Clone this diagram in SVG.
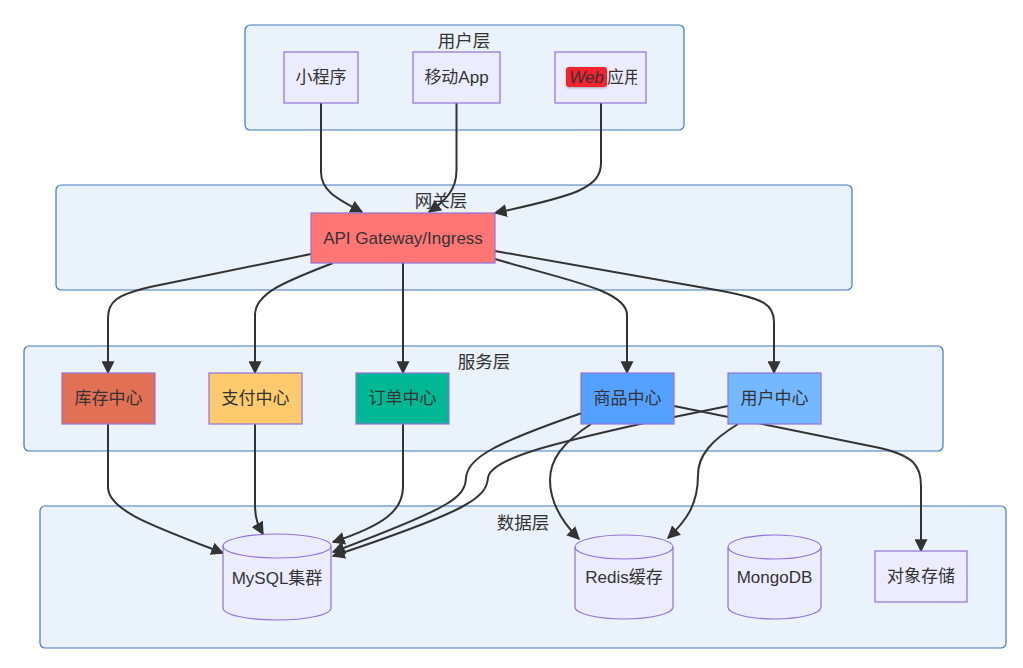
<svg xmlns="http://www.w3.org/2000/svg" width="1023" height="668" viewBox="0 0 1023 668">
<defs>
<style>
.cluster{fill:#eaf2fc;stroke:#4079c0;stroke-width:1.2}
.ctitle{font-family:"Liberation Sans","Noto Sans CJK SC",sans-serif;font-size:17.5px;fill:#333;text-anchor:middle;dominant-baseline:central}
.node{fill:#ececff;stroke:#9370db;stroke-width:1.2}
.lbl{font-family:"Liberation Sans","Noto Sans CJK SC",sans-serif;font-size:17px;fill:#333;text-anchor:middle;dominant-baseline:central}
.edge{fill:none;stroke:#333;stroke-width:2;marker-end:url(#arrow)}
</style>
<marker id="arrow" viewBox="0 0 10 10" refX="9" refY="5" markerUnits="userSpaceOnUse" markerWidth="13" markerHeight="13" orient="auto">
<path d="M0,0 L10,5 L0,10 z" fill="#333"/>
</marker>
<clipPath id="webclip"><rect x="556" y="53" width="81" height="50"/></clipPath>
<filter id="sh" x="-20%" y="-20%" width="140%" height="160%"><feDropShadow dx="0" dy="1" stdDeviation="1" flood-color="#000" flood-opacity="0.3"/></filter>
</defs>

<g id="clusters">
<g id="cluster-user"><rect class="cluster" x="245" y="25" width="439" height="105" rx="5"/><text class="ctitle" x="464" y="41">用户层</text></g>
<g id="cluster-gateway"><rect class="cluster" x="56" y="185" width="796" height="105" rx="5"/><text class="ctitle" x="441" y="201">网关层</text></g>
<g id="cluster-service"><rect class="cluster" x="24" y="346" width="919" height="105" rx="5"/><text class="ctitle" x="484" y="362">服务层</text></g>
<g id="cluster-data"><rect class="cluster" x="40" y="506" width="966" height="142" rx="5"/><text class="ctitle" x="523" y="523">数据层</text></g>
</g>

<g id="connectors">
<path class="edge" d="M321,103 L321,172 C321,190 335,198 362,212"/>
<path class="edge" d="M456.5,103 L456.5,170 C456.5,190 446,200 429,212"/>
<path class="edge" d="M601,103 L601,163 C601,188 575,196 495,213"/>
<path class="edge" d="M311,254 L150,287 C116,295 108,302 108,318 L108,373"/>
<path class="edge" d="M333,263 C290,280 255,292 255,315 L255,373"/>
<path class="edge" d="M403,263 L403,373"/>
<path class="edge" d="M495,259 C565,280 627,290 627,315 L627,373"/>
<path class="edge" d="M495,251 L722,291 C765,299 774,305 774,322 L774,373"/>
<path class="edge" d="M108,424 L108,487 C108,510 150,525 223,553"/>
<path class="edge" d="M255,424 L255,505 C255,520 259,527 263,534"/>
<path class="edge" d="M403,424 L403,487 C403,510 385,525 333,542"/>
<path class="edge" d="M582,413 C495,443 467,458 466,478 C465,498 450,508 333,552"/>
<path class="edge" d="M728,406 L640,424 C560,442 490,458 488,478 C486,498 470,510 333,556"/>
<path class="edge" d="M591,424 C562,443 550,460 550,480 C550,505 565,525 579,539"/>
<path class="edge" d="M738,424 C712,440 698,455 698,475 C698,505 686,521 668,538"/>
<path class="edge" d="M674,406 L880,448 C914,456 921,466 921,486 L921,551"/>
</g>

<g id="nodes">
<g id="n-miniprogram"><rect class="node" x="284" y="52" width="74" height="51"/><text class="lbl" x="321" y="77.5">小程序</text></g>
<g id="n-mobile"><rect class="node" x="413" y="52" width="87" height="51"/><text class="lbl" x="456.5" y="77.5">移动App</text></g>
<g id="n-web"><rect class="node" x="555" y="52" width="91" height="51"/>
<rect x="566" y="67" width="41" height="20" rx="3" fill="#f2232f" filter="url(#sh)"/>
<text class="lbl" x="586.5" y="77.5" font-style="italic" fill="#222">Web</text>
<text class="lbl" x="607" y="77.5" style="text-anchor:start" clip-path="url(#webclip)">应用</text></g>
<g id="n-gateway"><rect class="node" x="311" y="213" width="184" height="50" style="fill:#ff7675"/><text class="lbl" x="403" y="238">API Gateway/Ingress</text></g>
<g id="n-inventory"><rect class="node" x="62" y="373" width="93" height="51" style="fill:#e17055"/><text class="lbl" x="108.5" y="398.5">库存中心</text></g>
<g id="n-payment"><rect class="node" x="209" y="373" width="93" height="51" style="fill:#fdcb6e"/><text class="lbl" x="255.5" y="398.5">支付中心</text></g>
<g id="n-order"><rect class="node" x="356" y="373" width="93" height="51" style="fill:#00b894"/><text class="lbl" x="402.5" y="398.5">订单中心</text></g>
<g id="n-product"><rect class="node" x="581" y="373" width="93" height="51" style="fill:#54a0ff"/><text class="lbl" x="627.5" y="398.5">商品中心</text></g>
<g id="n-usercenter"><rect class="node" x="728" y="373" width="93" height="51" style="fill:#74b9ff"/><text class="lbl" x="774.5" y="398.5">用户中心</text></g>
<g id="n-mysql"><path class="node" d="M223,546 A54,12 0 0 1 331,546 L331,608 A54,12 0 0 1 223,608 Z"/><path d="M223,546 A54,12 0 0 0 331,546" fill="none" stroke="#9370db" stroke-width="1.2"/><text class="lbl" x="277" y="578">MySQL集群</text></g>
<g id="n-redis"><path class="node" d="M575,547 A49,12 0 0 1 673,547 L673,607 A49,12 0 0 1 575,607 Z"/><path d="M575,547 A49,12 0 0 0 673,547" fill="none" stroke="#9370db" stroke-width="1.2"/><text class="lbl" x="624" y="577">Redis缓存</text></g>
<g id="n-mongo"><path class="node" d="M728,547 A46.5,12 0 0 1 821,547 L821,607 A46.5,12 0 0 1 728,607 Z"/><path d="M728,547 A46.5,12 0 0 0 821,547" fill="none" stroke="#9370db" stroke-width="1.2"/><text class="lbl" x="774.5" y="577">MongoDB</text></g>
<g id="n-oss"><rect class="node" x="875" y="551" width="92" height="51"/><text class="lbl" x="921" y="576.5">对象存储</text></g>
</g>
</svg>
